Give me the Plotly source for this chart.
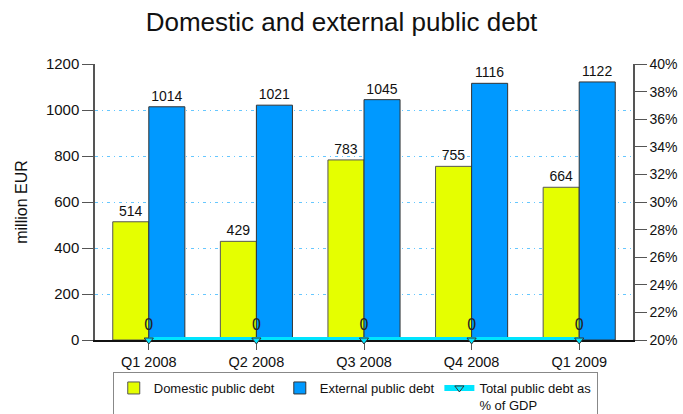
import plotly.graph_objects as go

categories = ["Q1 2008", "Q2 2008", "Q3 2008", "Q4 2008", "Q1 2009"]
domestic = [514, 429, 783, 755, 664]
external = [1014, 1021, 1045, 1116, 1122]
total_pct = [0, 0, 0, 0, 0]

font = "Liberation Sans, Arial, sans-serif"

fig = go.Figure()
fig.add_trace(go.Bar(
    x=categories, y=domestic, name="Domestic public debt",
    marker=dict(color="#E5FF00", line=dict(color="#555555", width=1)),
    text=domestic, textposition="outside", textfont=dict(size=14, color="#111"),
    cliponaxis=False,
))
fig.add_trace(go.Bar(
    x=categories, y=external, name="External public debt",
    marker=dict(color="#0099FF", line=dict(color="#333333", width=1)),
    text=external, textposition="outside", textfont=dict(size=14, color="#111"),
    cliponaxis=False,
))
fig.add_trace(go.Scatter(
    x=categories, y=total_pct, name="Total public debt as<br>% of GDP",
    mode="lines+markers+text",
    line=dict(color="#00E5FF", width=6),
    marker=dict(symbol="triangle-down", size=8, color="#00E5FF",
                line=dict(color="#333333", width=1)),
    text=[str(v) for v in total_pct], textposition="top center",
    textfont=dict(size=16, color="#222"),
    cliponaxis=False,
))
# invisible trace to activate secondary axis
fig.add_trace(go.Scatter(x=categories, y=[None]*5, yaxis="y2", showlegend=False,
                         hoverinfo="skip"))

fig.update_layout(
    width=683, height=414,
    margin=dict(l=95, r=50, t=64, b=74, autoexpand=False),
    paper_bgcolor="white", plot_bgcolor="white",
    font=dict(family=font, size=14, color="#111"),
    title=dict(text="Domestic and external public debt", x=0.5, xanchor="center",
               y=0.947, yanchor="middle", font=dict(size=26, color="#111")),
    barmode="group", bargap=0.33, bargroupgap=0,
    showlegend=True,
    legend=dict(orientation="h", x=0.033, xanchor="left", y=-0.116, yanchor="top",
                bordercolor="#888", borderwidth=1, font=dict(size=13),
                itemwidth=30, valign="top", tracegroupgap=0),
    xaxis=dict(showline=True, linecolor="#111", linewidth=1.5, ticks="outside",
               ticklen=8, tickcolor="#555", showgrid=False, layer="below traces",
               tickfont=dict(size=14.5)),
    yaxis=dict(range=[0, 1200], dtick=200, showline=True, linecolor="#555",
               linewidth=1.5, ticks="outside", ticklen=11, tickcolor="#555",
               showgrid=True, gridcolor="#66C7FF", griddash="3px,4px,1px,4px",
               gridwidth=1.2, layer="below traces",
               zeroline=False, tickfont=dict(size=15),
               title=dict(text="million EUR", font=dict(size=16), standoff=14)),
    yaxis2=dict(overlaying="y", side="right", range=[20, 40], dtick=2,
                ticksuffix="%", showline=True, linecolor="#555", linewidth=1.5,
                ticks="outside", ticklen=12, tickcolor="#555", showgrid=False,
                zeroline=False, tickfont=dict(size=14)),
)

fig.write_html("out.html")
